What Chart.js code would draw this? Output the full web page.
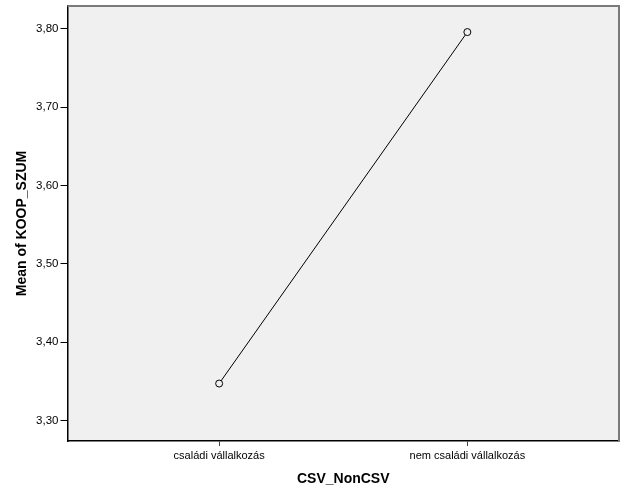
<!DOCTYPE html>
<html>
<head>
<meta charset="utf-8">
<script src="https://cdn.jsdelivr.net/npm/chart.js@4"></script>
<style>
  body { margin: 0; background: #fff; }
  #wrap { width: 626px; height: 501px; }
</style>
</head>
<body>
<div id="wrap"><canvas id="meansChart"></canvas></div>
<script>
// --- Data ---
const categories = ['családi vállalkozás', 'nem családi vállalkozás'];
const meanValues = [3.347, 3.796];
const yTicks = [3.30, 3.40, 3.50, 3.60, 3.70, 3.80];

// paint the plot area grey and add the grey top/right frame
const plotBg = {
    id: 'plotBg',
    beforeDraw(chart) {
        const { ctx, chartArea: a } = chart;
        ctx.save();
        ctx.fillStyle = '#f0f0f0';
        ctx.fillRect(a.left, a.top, a.right - a.left, a.bottom - a.top);
        ctx.restore();
    },
    afterDraw(chart) {
        const { ctx, chartArea: a } = chart;
        ctx.save();
        ctx.strokeStyle = '#7a7a7a';
        ctx.lineWidth = 2;
        ctx.beginPath();
        ctx.moveTo(a.left, a.top);
        ctx.lineTo(a.right, a.top);
        ctx.lineTo(a.right, a.bottom);
        ctx.stroke();
        ctx.restore();
    }
};

const ctx = document.getElementById('meansChart').getContext('2d');
new Chart(ctx, {
    type: 'line',
    data: {
        datasets: [{
            data: meanValues.map((v, i) => ({ x: i, y: v })),
            borderColor: '#000',
            borderWidth: 1,
            pointRadius: 3.5,
            pointBorderWidth: 1,
            pointBackgroundColor: '#f0f0f0',
            pointBorderColor: '#000',
            tension: 0
        }]
    },
    options: {
        responsive: true,
        maintainAspectRatio: false,
        animation: false,
        layout: { padding: { top: 6, right: 7, left: 0, bottom: 0 } },
        plugins: { legend: { display: false }, tooltip: { enabled: false } },
        scales: {
            x: {
                type: 'linear',
                min: -0.611,
                max: 1.611,
                afterBuildTicks: s => { s.ticks = categories.map((c, i) => ({ value: i })); },
                afterFit: s => { s.height = 60; s.paddingLeft = 0; s.paddingRight = 0; },
                grid: { drawOnChartArea: false, tickLength: 5, color: '#444' },
                border: { color: '#000', width: 1.5 },
                ticks: {
                    color: '#000',
                    font: { family: 'Arial, "Liberation Sans"', size: 11 },
                    padding: 3,
                    maxRotation: 0,
                    callback: v => categories[v]
                },
                title: {
                    display: true,
                    text: 'CSV_NonCSV',
                    color: '#000',
                    font: { family: 'Arial, "Liberation Sans"', size: 14, weight: 'bold' },
                    padding: { top: 4, bottom: 13 }
                }
            },
            y: {
                min: 3.2736,
                max: 3.8293,
                afterBuildTicks: s => { s.ticks = yTicks.map(v => ({ value: v })); },
                afterFit: s => { s.width = 67.5; s.paddingTop = 0; s.paddingBottom = 0; },
                grid: { drawOnChartArea: false, tickLength: 7, color: '#000' },
                border: { color: '#000', width: 1.5 },
                ticks: {
                    color: '#000',
                    font: { family: 'Arial, "Liberation Sans"', size: 11.5 },
                    padding: 2,
                    callback: v => v.toFixed(2).replace('.', ',')
                },
                title: {
                    display: true,
                    text: 'Mean of KOOP_SZUM',
                    color: '#000',
                    font: { family: 'Arial, "Liberation Sans"', size: 14, weight: 'bold' },
                    padding: { top: 14, bottom: 4 }
                }
            }
        }
    },
    plugins: [plotBg]
});
</script>
</body>
</html>
